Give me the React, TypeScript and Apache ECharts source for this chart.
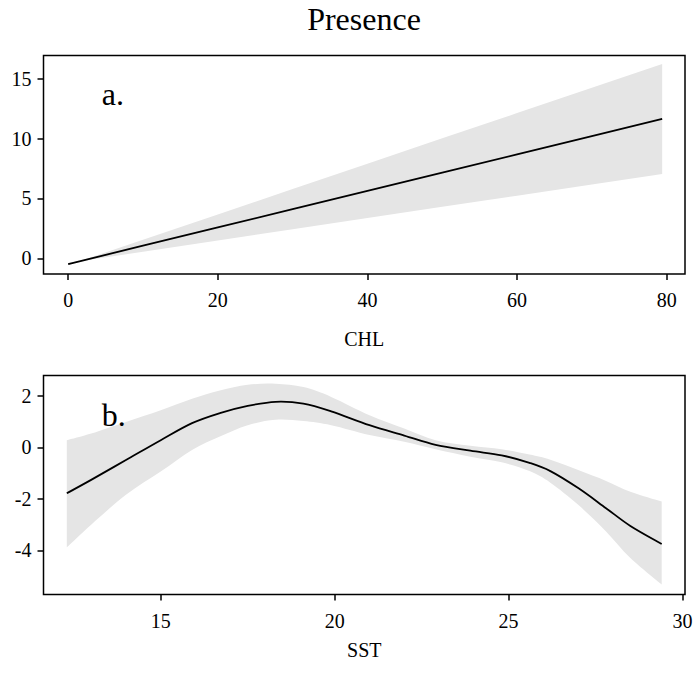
import React, { useEffect, useRef } from "react";
import * as echarts from "echarts";

// Panel a: CHL (linear smooth term)
const chlX = [0, 1.5, 10, 20, 30, 40, 50, 60, 70, 79.4];
const chlFit = [-0.48, -0.25, 1.05, 2.58, 4.1, 5.63, 7.16, 8.68, 10.21, 11.64];
const chlUpper = [-0.39, -0.25, 1.55, 3.67, 5.78, 7.9, 10.02, 12.13, 14.25, 16.24];
const chlLower = [-0.57, -0.25, 0.55, 1.49, 2.42, 3.36, 4.3, 5.23, 6.17, 7.04];
const chlTicksX = [0, 20, 40, 60, 80];
const chlTicksY = [0, 5, 10, 15];

// Panel b: SST (smooth term)
const sstX = [12.3, 13.0, 14.0, 15.0, 15.9, 16.7, 17.5, 18.3, 19.1, 19.9, 21.0, 22.0, 22.9, 23.9, 24.8, 25.6, 26.2, 27.0, 27.8, 28.5, 29.4];
const sstFit = [-1.78, -1.26, -0.49, 0.28, 0.94, 1.33, 1.61, 1.77, 1.7, 1.4, 0.86, 0.46, 0.1, -0.13, -0.31, -0.6, -0.92, -1.58, -2.36, -3.05, -3.75];
const sstUpper = [0.28, 0.54, 0.99, 1.44, 1.89, 2.21, 2.43, 2.47, 2.34, 1.96, 1.25, 0.73, 0.28, 0.06, -0.07, -0.28, -0.48, -0.88, -1.3, -1.72, -2.1];
const sstLower = [-3.88, -3.0, -1.84, -0.94, -0.1, 0.42, 0.86, 1.07, 1.02, 0.86, 0.48, 0.22, -0.07, -0.36, -0.58, -0.92, -1.37, -2.23, -3.26, -4.29, -5.32];
const sstTicksX = [15, 20, 25, 30];
const sstTicksY = [-4, -2, 0, 2];

const FONT = "'Liberation Serif', 'Times New Roman', serif";
const BAND = "#E5E5E5";

function pair(xs: number[], ys: number[]) {
  return xs.map((x, i) => [x, ys[i]]);
}

// Catmull-Rom style cubic path through pixel points (rendering only)
function curvePath(pts: number[][], smooth: boolean, start: boolean) {
  let d = start ? `M${pts[0][0]},${pts[0][1]}` : `L${pts[0][0]},${pts[0][1]}`;
  for (let i = 0; i < pts.length - 1; i++) {
    const p0 = pts[Math.max(0, i - 1)];
    const p1 = pts[i];
    const p2 = pts[i + 1];
    const p3 = pts[Math.min(pts.length - 1, i + 2)];
    if (!smooth) {
      d += `L${p2[0]},${p2[1]}`;
      continue;
    }
    const c1x = p1[0] + (p2[0] - p0[0]) / 6;
    const c1y = p1[1] + (p2[1] - p0[1]) / 6;
    const c2x = p2[0] - (p3[0] - p1[0]) / 6;
    const c2y = p2[1] - (p3[1] - p1[1]) / 6;
    d += `C${c1x},${c1y},${c2x},${c2y},${p2[0]},${p2[1]}`;
  }
  return d;
}

function xAxisCfg(grid: number, min: number, max: number, ticks: number[], name: string, gap: number) {
  return {
    gridIndex: grid,
    type: "value",
    min,
    max,
    axisLine: { show: false, onZero: false },
    splitLine: { show: false },
    axisTick: { show: true, length: 6, lineStyle: { color: "#000", width: 1.5 }, customValues: ticks },
    axisLabel: { customValues: ticks, fontSize: 20, color: "#000", margin: 16, fontFamily: FONT },
    name,
    nameLocation: "middle",
    nameGap: gap,
    nameTextStyle: { fontSize: 20, color: "#000", fontFamily: FONT },
    z: 20,
  };
}
function yAxisCfg(grid: number, min: number, max: number, ticks: number[]) {
  return {
    gridIndex: grid,
    type: "value",
    min,
    max,
    axisLine: { show: false, onZero: false },
    splitLine: { show: false },
    axisTick: { show: true, length: 6, lineStyle: { color: "#000", width: 1.5 }, customValues: ticks },
    axisLabel: { customValues: ticks, fontSize: 20, color: "#000", margin: 12, fontFamily: FONT },
    z: 20,
  };
}

function bandSeries(axis: number, xs: number[], lo: number[], hi: number[], fit: number[], smooth: boolean) {
  return [
    {
      type: "custom",
      xAxisIndex: axis,
      yAxisIndex: axis,
      coordinateSystem: "cartesian2d",
      data: pair(xs, hi),
      silent: true,
      z: 1,
      renderItem: (params: any, api: any) => {
        if (params.dataIndex !== 0) return null;
        const up = xs.map((x, i) => api.coord([x, hi[i]]));
        const dn = xs.map((x, i) => api.coord([x, lo[i]])).reverse();
        const d = curvePath(up, smooth, true) + curvePath(dn, smooth, false) + "Z";
        return { type: "path", shape: { pathData: d }, style: { fill: BAND, stroke: null } };
      },
    },
    {
      type: "custom",
      xAxisIndex: axis,
      yAxisIndex: axis,
      coordinateSystem: "cartesian2d",
      data: pair(xs, fit),
      silent: true,
      z: 3,
      renderItem: (params: any, api: any) => {
        if (params.dataIndex !== 0) return null;
        const pts = xs.map((x, i) => api.coord([x, fit[i]]));
        return { type: "path", shape: { pathData: curvePath(pts, smooth, true) }, style: { fill: null, stroke: "#000", lineWidth: 1.8 } };
      },
    },
  ];
}

export default function App() {
  const ref = useRef<HTMLDivElement>(null);
  useEffect(() => {
    if (!ref.current) return;
    const chart = echarts.init(ref.current, null, { renderer: "svg" });
    const option: any = {
      animation: false,
      backgroundColor: "#fff",
      textStyle: { fontFamily: FONT },
      grid: [
        { left: 43.5, right: 12, top: 55.5, height: 218.5, show: true, borderColor: "#000", borderWidth: 1.5, backgroundColor: "transparent", z: 10 },
        { left: 43.5, right: 12, top: 375.5, height: 219, show: true, borderColor: "#000", borderWidth: 1.5, backgroundColor: "transparent", z: 10 },
      ],
      xAxis: [
        xAxisCfg(0, -3.3, 82.45, chlTicksX, "CHL", 55),
        xAxisCfg(1, 11.63, 30.07, sstTicksX, "SST", 45),
      ],
      yAxis: [yAxisCfg(0, -1.31, 16.94, chlTicksY), yAxisCfg(1, -5.71, 2.79, sstTicksY)],
      graphic: [
        { type: "text", z: 100, x: 364, y: 19, style: { text: "Presence", font: `32px ${FONT}`, fill: "#000", align: "center", verticalAlign: "middle" } },
        { type: "text", z: 100, x: 101.7, y: 94.3, style: { text: "a.", font: `32px ${FONT}`, fill: "#000", align: "left", verticalAlign: "middle" } },
        { type: "text", z: 100, x: 101.7, y: 415, style: { text: "b.", font: `32px ${FONT}`, fill: "#000", align: "left", verticalAlign: "middle" } },
      ],
      series: [
        ...bandSeries(0, chlX, chlLower, chlUpper, chlFit, false),
        ...bandSeries(1, sstX, sstLower, sstUpper, sstFit, true),
      ],
    };
    chart.setOption(option);
    return () => chart.dispose();
  }, []);
  return <div ref={ref} style={{ position: "fixed", left: 0, top: 0, width: 697, height: 675, background: "#fff" }} />;
}
